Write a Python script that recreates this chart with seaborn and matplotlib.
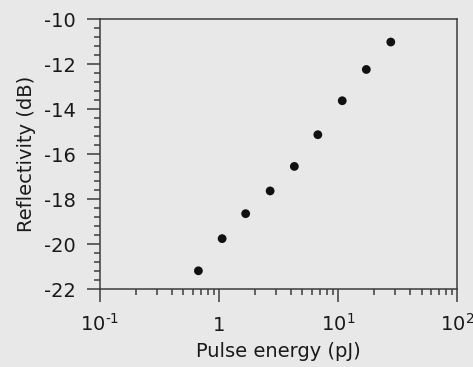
import matplotlib
matplotlib.use("Agg")
import matplotlib.pyplot as plt
import numpy as np
import pandas as pd
import seaborn as sns
from matplotlib.ticker import FixedLocator, NullFormatter

# Measured reflectivity versus pulse energy
pulse_energy_pj = [0.67, 1.06, 1.67, 2.68, 4.28, 6.74, 10.8, 17.2, 27.6]
reflectivity_db = [-21.19, -19.76, -18.65, -17.64, -16.55, -15.14, -13.63, -12.24, -11.02]

x_tick_values = [0.1, 1, 10, 100]
x_tick_labels = [r"$\mathregular{10^{\text{-}1}}$", "1", r"$\mathregular{10^{1}}$", r"$\mathregular{10^{2}}$"]
y_tick_values = [-10, -12, -14, -16, -18, -20, -22]
y_tick_labels = ["-10", "-12", "-14", "-16", "-18", "-20", "-22"]

sns.set_theme(style="ticks")
bg = "#e8e8e8"
ink = "#3c3c3c"
plt.rcParams.update({
    "font.family": ["DejaVu Sans"],
    "mathtext.fontset": "dejavusans",
    "axes.unicode_minus": False,
    "axes.edgecolor": ink,
    "axes.linewidth": 1.1,
    "xtick.color": ink,
    "ytick.color": ink,
    "xtick.labelcolor": "#1a1a1a",
    "ytick.labelcolor": "#1a1a1a",
})

df = pd.DataFrame({"energy": pulse_energy_pj, "refl": reflectivity_db})

fig = plt.figure(figsize=(4.73, 3.67), dpi=100, facecolor=bg)
ax = fig.add_axes([0.2114, 0.2125, 0.7556, 0.7355])
ax.set_facecolor(bg)

sns.scatterplot(data=df, x="energy", y="refl", ax=ax, color="#111111",
                s=40, edgecolor="none", linewidth=0, zorder=3)

ax.set_xscale("log")
ax.set_xlim(0.1, 100)
ax.set_ylim(-22, -10)

ax.xaxis.set_major_locator(FixedLocator(x_tick_values))
ax.set_xticks(x_tick_values, x_tick_labels)
minor_x = [m * 10.0 ** d for d in (-1, 0, 1) for m in range(2, 10)]
ax.xaxis.set_minor_locator(FixedLocator(minor_x))
ax.xaxis.set_minor_formatter(NullFormatter())

ax.set_yticks(y_tick_values, y_tick_labels)
minor_y = [v for v in np.arange(-22, -9.9, 0.4) if all(abs(v - t) > 1e-6 for t in y_tick_values)]
ax.yaxis.set_minor_locator(FixedLocator(minor_y))

for side in ("top", "right", "left", "bottom"):
    ax.spines[side].set_visible(True)
    ax.spines[side].set_color(ink)
    ax.spines[side].set_linewidth(1.1)

ax.tick_params(axis="both", which="major", direction="out", length=9.4, width=1.1,
               labelsize=14)
ax.tick_params(axis="both", which="minor", direction="out", length=4.3, width=1.1)
ax.tick_params(axis="y", which="major", pad=8)
ax.tick_params(axis="x", which="major", pad=21)
for lab in ax.get_xticklabels():
    lab.set_verticalalignment("baseline")

ax.set_xlabel("Pulse energy (pJ)", fontsize=14, color="#1a1a1a", labelpad=5)
ax.set_ylabel("Reflectivity (dB)", fontsize=14, color="#1a1a1a", labelpad=6)

fig.savefig("out.png", dpi=100, facecolor=bg)
